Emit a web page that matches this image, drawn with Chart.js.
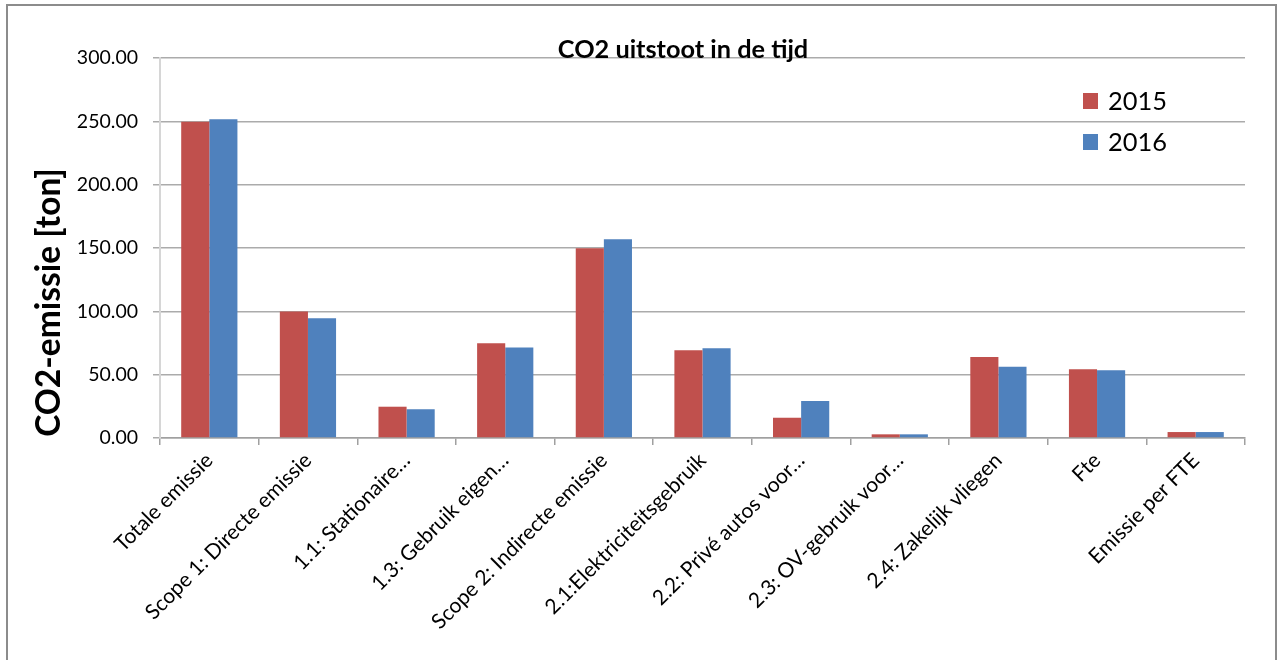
<!DOCTYPE html>
<html>
<head>
<meta charset="utf-8">
<script src="https://cdn.jsdelivr.net/npm/chart.js@4/dist/chart.umd.min.js"></script>
<style>
  html, body { margin: 0; padding: 0; background: #fff; }
  canvas { display: block; }
</style>
</head>
<body>
<canvas id="c" width="1281" height="660" style="width:1281px;height:660px"></canvas>
<script>
// Emission categories (x axis)
const categories = [
  'Totale emissie',
  'Scope 1: Directe emissie',
  '1.1: Stationaire…',
  '1.3: Gebruik eigen…',
  'Scope 2: Indirecte emissie',
  '2.1:Elektriciteitsgebruik',
  '2.2: Privé autos voor…',
  '2.3: OV-gebruik voor…',
  '2.4: Zakelijk vliegen',
  'Fte',
  'Emissie per FTE'
];

// CO2 emission per year, in tonnes
const values2015 = [249.6, 99.8, 24.7, 74.8, 149.8, 69.2, 16.0, 2.9, 63.9, 54.2, 4.7];
const values2016 = [251.7, 94.5, 22.7, 71.4, 156.9, 70.8, 29.2, 2.9, 56.3, 53.4, 4.7];

const seriesLabels = ['2015', '2016'];
const yTickValues = [0, 50, 100, 150, 200, 250, 300];

const chartTitle = 'CO2 uitstoot in de tijd';
const yAxisTitle = 'CO2-emissie [ton]';

const FONT = 'Lato, "Open Sans", sans-serif';
const RED = '#C0504D';
const BLUE = '#4F81BD';

// Pick a font size so that a string spans the given width
function fitFont(ctx, text, weight, width) {
  ctx.font = weight + ' 100px ' + FONT;
  const w = ctx.measureText(text).width;
  return 100 * width / w;
}

const decorations = {
  id: 'decorations',
  beforeDraw(chart) {
    const ctx = chart.ctx;
    ctx.save();
    ctx.fillStyle = '#fff';
    ctx.fillRect(0, 0, chart.width, chart.height);
    ctx.restore();
  },
  afterDraw(chart) {
    const ctx = chart.ctx;
    ctx.save();

    // outer frame
    ctx.strokeStyle = '#8c8c8c';
    ctx.lineWidth = 2;
    ctx.strokeRect(7, 5, 1269, 700);

    // chart title
    let size = fitFont(ctx, chartTitle, 'bold', 250);
    ctx.font = 'bold ' + size.toFixed(1) + 'px ' + FONT;
    ctx.fillStyle = '#000';
    ctx.textAlign = 'center';
    ctx.textBaseline = 'alphabetic';
    ctx.fillText(chartTitle, 683, 58);

    // y axis title, rotated
    size = fitFont(ctx, yAxisTitle, 'bold', 269);
    ctx.save();
    ctx.translate(48, 302.5);
    ctx.rotate(-Math.PI / 2);
    ctx.font = 'bold ' + size.toFixed(1) + 'px ' + FONT;
    ctx.textAlign = 'center';
    ctx.textBaseline = 'middle';
    ctx.fillText(yAxisTitle, 0, 1);
    ctx.restore();

    // legend
    const rows = [101, 142];
    size = fitFont(ctx, '2015', 'normal', 59);
    ctx.font = size.toFixed(1) + 'px ' + FONT;
    ctx.textAlign = 'left';
    ctx.textBaseline = 'middle';
    chart.data.datasets.forEach((ds, i) => {
      const cy = rows[i];
      ctx.fillStyle = ds.backgroundColor;
      ctx.fillRect(1083, cy - 8, 15, 16);
      ctx.fillStyle = '#000';
      ctx.fillText(ds.label, 1108, cy + 1);
    });
    ctx.restore();
  }
};

new Chart(document.getElementById('c'), {
  type: 'bar',
  data: {
    labels: categories,
    datasets: [
      { label: seriesLabels[0], data: values2015, backgroundColor: RED, borderWidth: 0 },
      { label: seriesLabels[1], data: values2016, backgroundColor: BLUE, borderWidth: 0 }
    ]
  },
  options: {
    responsive: false,
    animation: false,
    devicePixelRatio: 1,
    layout: { padding: { top: 58, right: 36, left: 0, bottom: 0 } },
    categoryPercentage: 0.57,
    barPercentage: 1.0,
    plugins: {
      legend: { display: false },
      title: { display: false },
      tooltip: { enabled: false }
    },
    scales: {
      x: {
        afterFit(scale) { scale.height = 222; },
        grid: {
          offset: true,
          drawOnChartArea: false,
          drawTicks: true,
          tickLength: 7,
          color: '#a0a0a0',
          lineWidth: 1.5
        },
        border: { color: '#a0a0a0', width: 1.5 },
        ticks: {
          autoSkip: false,
          minRotation: 45,
          maxRotation: 45,
          padding: 3,
          color: '#000',
          font: { family: FONT, size: 21 }
        }
      },
      y: {
        min: 0,
        max: 300,
        afterFit(scale) { scale.width = 160; },
        afterBuildTicks(scale) { scale.ticks = yTickValues.map(v => ({ value: v })); },
        grid: {
          color: '#ababab',
          lineWidth: 1.5,
          tickLength: 7,
          drawTicks: true
        },
        border: { color: '#d6d6d6', width: 2 },
        ticks: {
          padding: 15,
          color: '#000',
          font: { family: FONT, size: 19.5 },
          callback: v => Number(v).toFixed(2)
        }
      }
    }
  },
  plugins: [decorations]
});
</script>
</body>
</html>
